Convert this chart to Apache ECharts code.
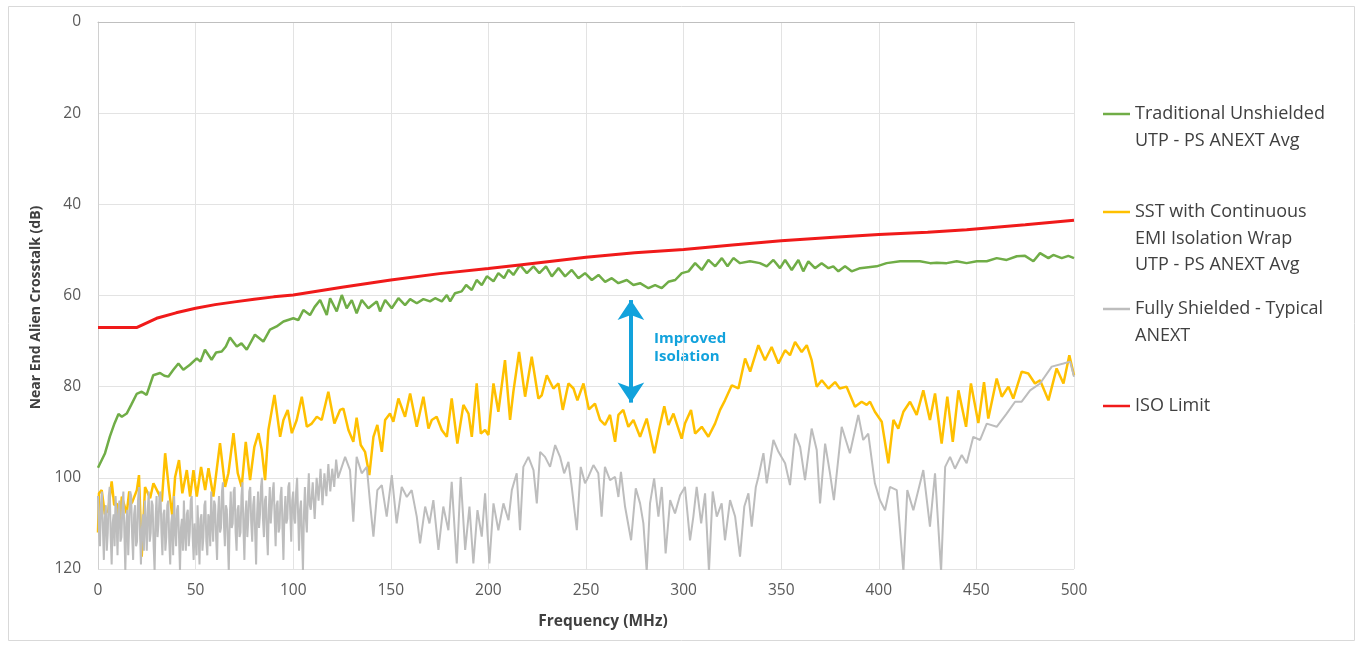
<!DOCTYPE html>
<html>
<head>
<meta charset="utf-8">
<script src="https://cdn.jsdelivr.net/npm/echarts@6/dist/echarts.min.js"></script>
<style>
html,body{margin:0;padding:0;background:#fff;}
#chart{width:1359px;height:647px;}
</style>
</head>
<body>
<div id="chart"></div>
<script>
// ---- Data (frequency MHz, crosstalk dB) ----
const xTicks = [0, 50, 100, 150, 200, 250, 300, 350, 400, 450, 500];
const yTicks = [0, 20, 40, 60, 80, 100, 120];

const legendLines = [
  ['Traditional Unshielded', 'UTP - PS ANEXT Avg'],
  ['SST with Continuous', 'EMI Isolation Wrap', 'UTP - PS ANEXT Avg'],
  ['Fully Shielded - Typical', 'ANEXT'],
  ['ISO Limit']
];

const utpData = [[0,97.8],[1,97.5],[3.6,94.6],[6.1,90.9],[8.5,88],[10.5,86],[12.2,86.6],[14.7,85.9],[17,84],[19.8,81.6],[22.4,81.1],[24.9,81.8],[28.3,77.5],[31.8,77],[34,77.6],[36,77.8],[38.6,76.3],[41.2,74.9],[43.7,76.3],[47.1,75.2],[50.6,73.8],[52.5,74.5],[54.8,71.9],[58.2,74.1],[60.5,72.5],[63.4,72.3],[65.5,71.2],[67.6,69.2],[71.1,71.2],[73.5,70.5],[76.2,71.9],[80.4,68.6],[84.7,70.1],[88.1,67.5],[91.5,66.8],[95,65.7],[100.1,65],[102.6,65.4],[105.2,63.2],[108.6,64.3],[111,62.5],[113.8,61],[117.2,64.3],[118.9,60.6],[122.3,63.5],[124.9,59.9],[127.4,62.8],[130,61],[132.5,63.9],[135.1,61],[138.5,62.8],[142.8,61.3],[144.5,63.5],[147.1,61],[150.5,62.8],[153.9,60.6],[157.3,62.1],[159.9,60.8],[163.3,61.7],[166.7,60.8],[170.1,61.3],[172.7,60.6],[176.1,61.3],[178.7,59.9],[180.4,61.3],[182.9,59.5],[186.3,59.1],[188.6,57.7],[191.5,58.8],[194,56.6],[196.6,57.7],[199.2,55.8],[202.6,56.9],[205.1,55.1],[208,56.2],[210.3,54.4],[212.8,55.5],[216.2,53.3],[219.7,55.1],[223.1,53.6],[226.1,55.1],[229.5,53.6],[232.5,55.8],[235.9,54],[239.3,55.8],[242.7,54.4],[246.1,56.2],[249.5,55.1],[253,56.6],[256.4,55.5],[259.8,57],[263.2,56.2],[266.6,57.3],[270.9,56.6],[274.3,57.7],[277.7,57.3],[282,58.4],[285.4,57.7],[288.8,58.4],[292.2,57],[295.7,56.6],[299.1,55.1],[302.5,54.7],[305.9,52.9],[309.3,54.4],[312.7,52.2],[316.2,53.6],[319.6,51.8],[322.5,53.6],[325.5,51.8],[328.9,52.9],[334,52.5],[339.1,52.9],[342.6,53.6],[346,52.2],[349.4,54],[352,52.2],[355.4,54.4],[358.8,52.2],[361.3,54.7],[363.9,52.5],[367.3,54],[370.7,52.9],[374.2,54],[376.7,53.6],[379.3,54.7],[382.7,53.6],[386.1,54.7],[390.4,54],[398.9,53.6],[404,52.9],[410.9,52.5],[416,52.5],[421.1,52.5],[426.3,52.9],[429.7,52.8],[434.8,52.9],[439.9,52.5],[445,52.9],[450.2,52.5],[455.3,52.5],[460.4,51.8],[465.5,52.2],[470.7,51.4],[474.9,51.3],[479.2,52.5],[482.6,50.7],[486.9,51.8],[489.4,51.1],[493.7,51.8],[497.1,51.3],[500,51.8]];

const sstData = [[0,112],[0.5,103.4],[1.9,102.7],[3.5,108],[5.3,107.1],[7,100.8],[8.3,106],[9.6,105.6],[11,110],[12.2,104.1],[14.7,107.8],[16,103],[17.3,105.6],[19.9,102.7],[21,99.4],[22.4,117.3],[24.1,102],[26.7,104.5],[28.4,101.2],[31,103.4],[32.7,105.2],[34.4,94.6],[36.4,102.7],[38.1,108.5],[39.5,99.8],[41.5,96.1],[43.2,103.4],[45.5,98.3],[47.2,104.1],[48.9,98.3],[50.6,104.1],[52.8,97.6],[54.9,102.7],[56.6,97.9],[59.1,104.1],[62.5,92.4],[65.1,102],[66.8,99],[69.4,90.2],[71.6,99],[73.6,102],[75.7,92.1],[77.9,100.5],[80.1,93.2],[82.2,90.2],[83.9,93.9],[85.6,100.5],[87.3,89.5],[90.4,81.8],[93.3,91],[95,87.3],[97.2,85.1],[99.3,90.2],[101.8,87.3],[104.4,82.2],[107,88.8],[109.5,88.1],[112.1,86.6],[114.6,87.3],[118,81.1],[121.1,88.1],[124,85.1],[125.7,84.8],[128.3,89.5],[130.8,92.1],[132.5,86.8],[134.6,92.8],[136.8,94.3],[139,99.4],[141.1,91],[143.1,88.4],[145.4,94.3],[147.1,87.3],[149.6,85.9],[151.3,87.7],[153.9,82.6],[157.3,86.6],[159.9,81.5],[163.3,88.8],[166.7,82.2],[169.3,89.2],[171,87.3],[173.5,86.6],[176.1,89.5],[178.7,91],[181.2,82.6],[184.1,92.5],[187.2,84],[189.8,85.9],[191.5,91],[194,79.3],[196.1,90.3],[198.3,89.5],[200,90.6],[202.6,79.3],[205.1,85.5],[208.5,74.2],[211.1,87.3],[212.8,81.1],[215.7,72.4],[218.8,82.2],[222.2,73.4],[225.6,82.6],[227.3,81.9],[229.9,77.5],[233.3,80.4],[235.9,79.3],[238.1,85.1],[241,79.3],[243.6,80.4],[245.6,83],[248.7,79.3],[251.5,85],[254.6,83.7],[257.2,87.3],[259.7,88.4],[262.3,86.2],[264.9,92.1],[266.6,86.2],[269.1,85.1],[271.7,88.8],[274.3,87.3],[277.7,91],[281.1,87],[285,94.6],[287.4,89.5],[290.1,84.3],[292.2,88.4],[294.8,85.9],[299,91.4],[300.7,88.1],[303.8,85.1],[305.9,90.3],[309.3,88.8],[312.7,91],[316.1,88.1],[318.7,85.1],[321.2,83],[324.7,79.7],[328.1,80.4],[331.5,73.8],[334.1,76.7],[338.3,70.9],[341.7,74.2],[345.1,71.3],[348.6,74.9],[352,72],[354.5,73.1],[357.1,70.2],[360.5,72.4],[363.1,70.9],[365.6,74.2],[368.2,80],[370.8,78.6],[374.2,80.4],[377.6,79],[380,80.4],[383.5,80],[387.8,84.4],[391.2,83.3],[393.8,84],[395.5,83.3],[398,85.5],[401.5,87.7],[404.9,96.8],[407.5,87.3],[410,89.2],[412.6,85.5],[416,83.3],[419.4,86.2],[422.8,80.8],[426.2,87.3],[428.8,81.5],[432.2,92.5],[435.1,82.2],[437.9,92.1],[440.8,80.8],[444.7,88.8],[447.2,79.3],[451,88],[453.9,79],[456.1,87],[460.4,78.2],[463,82.2],[466.4,80],[468.9,82.6],[473.2,76.7],[476.6,77.1],[480,79.3],[482.6,78.6],[486.9,83],[491.1,76],[494.6,79.3],[497.6,73.1],[500,77.5]];

const shieldedData = [[0,104],[0.5,112],[1,115],[1.5,106],[2,103],[2.5,111],[3,118],[3.5,109],[4,106],[4.5,116],[5,112],[5.5,104],[6,102],[6.5,113],[7,119],[7.5,110],[8,108],[8.5,115],[9,104],[9.5,109],[10,117],[10.5,107],[11,105],[11.5,114],[12,113],[12.5,106],[13,103],[13.5,112],[14,120.5],[14.5,110],[15,107],[15.5,117],[16,110],[16.5,103],[17,104],[17.5,113],[18,118],[18.5,108],[19,106],[19.5,115],[20,114],[20.5,105],[21,102],[21.5,112],[22,119],[22.5,111],[23,108],[23.5,116],[24,105],[24.5,110],[25,116],[25.5,107],[26,103],[26.5,114],[27,112],[27.5,105],[28,106],[28.5,115],[29,120.5],[29.5,109],[30,104],[30.5,113],[31,110],[31.5,104],[32,103],[32.5,112],[33,117],[33.5,108],[34,107],[34.5,116],[35,113],[35.5,106],[36,105],[36.5,114],[37,119],[37.5,110],[38,108],[38.5,117],[39,104],[39.5,111],[40,115],[40.5,107],[41,106],[41.5,113],[42,120.5],[42.5,111],[43,109],[43.5,116],[44,105],[44.5,112],[45,116],[45.5,108],[46,107],[46.5,115],[47,112],[47.5,105],[48,104],[48.5,113],[49,118],[49.5,110],[50,110],[50.5,117],[51,106],[51.5,112],[52,119],[52.5,109],[53,108],[53.5,116],[54,113],[54.5,106],[55,105],[55.5,114],[56,117],[56.5,108],[57,109],[57.5,115],[58,103],[58.5,110],[59,114],[59.5,105],[60,106],[60.5,113],[61,118],[61.5,108],[62,104],[62.5,112],[63,111],[63.5,103],[64,101],[64.5,110],[65,115],[65.5,106],[66,107],[66.5,114],[67,120.5],[67.5,109],[68,103],[68.5,111],[69,110],[69.5,103],[70,102],[70.5,112],[71,116],[71.5,107],[72,106],[72.5,113],[73,112],[73.5,104],[74,101],[74.5,111],[75,118],[75.5,108],[76,105],[76.5,113],[77,109],[77.5,103],[78,102],[78.5,110],[79,114],[79.5,106],[80,104],[80.5,112],[81,119],[81.5,108],[82,103],[82.5,111],[83,108],[83.5,102],[84,100],[84.5,109],[85,113],[85.5,105],[86,104],[86.5,112],[87,117],[87.5,107],[88,102],[88.5,110],[89,110],[89.5,103],[90,101],[90.5,109],[91,115],[91.5,106],[92,105],[92.5,112],[93,111],[93.5,104],[94,102],[94.5,111],[95,118],[95.5,108],[96,104],[96.5,110],[97,109],[97.5,102],[98,101],[98.5,108],[99,114],[99.5,105],[100,103],[100.5,109],[101,110],[101.5,103],[102,100],[102.5,108],[103,116],[103.5,107],[104,105],[104.5,113],[105,120.5],[105.5,108],[106,102],[106.5,109],[107,112],[107.5,104],[108,99],[108.5,106],[109,107],[110,101],[111,109],[112,100],[113,105],[114,98],[115,106],[116,99],[117,104],[118,97],[119,103],[120,98],[121,102],[122,96],[123,100],[124,99.8],[126.6,95.4],[129.1,98.3],[130.8,109.6],[132.5,95.4],[135.1,99],[137.7,97.6],[139.4,105.6],[141.1,112.9],[143.1,102.7],[145.4,101.6],[147.9,108.5],[150.5,99.4],[153,110],[155.6,102],[158.2,104.2],[160.7,102.7],[163.3,108.5],[165,114.4],[167.6,106.3],[169.8,110],[171.8,104.9],[174.4,115.8],[176.9,106.3],[179.5,111.5],[181.2,100.9],[183.8,118.8],[185.8,99.8],[188.1,115.8],[190.3,106.3],[192.3,118.8],[194.4,107.1],[196.6,112.9],[198.3,103.4],[200.5,118.8],[202.6,105.6],[205.1,111.5],[207.7,105.6],[210.3,109.3],[212,102.7],[214.5,99],[216.2,111.5],[217.9,97.6],[220.5,95.4],[223.1,98.3],[224.8,105.6],[226.5,94.3],[229,95.4],[231.6,97.6],[234.2,92.8],[236.7,95.4],[238.8,99],[241,96.5],[242.7,102],[245.3,111.5],[247.3,97.6],[249.5,101.2],[251.2,99.8],[253.8,97.2],[256.3,99],[258,108.5],[259.7,97.6],[262.3,100.5],[264.9,99.8],[266.6,104.2],[267.9,98.7],[270,106.3],[273.1,113.7],[275.5,102.3],[277.7,105.6],[279.4,110],[281.1,120.5],[282.8,105.6],[284.9,100.1],[287.1,108.5],[288.8,102],[290.8,116.6],[293.1,104.9],[295.6,107.8],[298.2,103.8],[300.7,102],[303.3,113.7],[305,108.5],[306.7,102],[309,110],[311,103.4],[313,120.5],[314.9,103],[317,108.5],[319.5,105.6],[321.2,113.7],[323.8,104.9],[326.4,108.5],[328.9,117.3],[331.1,106.3],[333.2,103.4],[334.9,110.7],[337,102],[338.3,99.8],[340.9,94.6],[342.6,101.2],[346,91.7],[348.6,94.3],[352,96.8],[354.5,101.6],[357.1,90.3],[359.7,93.2],[362.2,100.5],[365.6,89.2],[368.2,93.9],[369.9,105.6],[372.5,92.5],[375,99],[377,104.9],[381,88.8],[385.2,94.6],[389.5,86.2],[392,91.7],[394.6,90.3],[398,101.2],[400.6,104.9],[403.2,107.1],[405.7,102],[409.2,102.7],[412.6,120.5],[414.6,102.7],[417.7,107.1],[422.8,98.3],[426.2,110.7],[428.8,99],[431.9,120.5],[434,97.6],[436.5,95.4],[439,98],[442.5,95],[445,96.8],[448.4,91],[451.9,91.7],[455.3,88.1],[460.4,88.8],[465.5,85.9],[469.8,83.3],[473.2,83.3],[477.5,80.8],[482.6,79.3],[488.6,75.6],[494.6,74.9],[498,74.5],[500,77.8]];

const isoData = [[0,67],[20,67],[25,66],[30,65],[40,63.8],[50,62.8],[60,62],[70,61.4],[80,60.8],[90,60.3],[100,59.9],[125,58.2],[150,56.6],[175,55.2],[200,54.1],[216,53.3],[250,51.6],[275,50.6],[300,49.9],[325,48.9],[350,48],[375,47.3],[400,46.6],[425,46.1],[445,45.6],[475,44.5],[500,43.5]];

// Annotation arrow (frequency, top dB, bottom dB)
const arrowFreq = 273;
const arrowTop = 61;
const arrowBottom = 83.5;
const annotationText = ['Improved', 'Isolation'];

// ---- Chart ----
const colors = ['#70ad47', '#ffc000', '#bdbdbd', '#f01a1a'];
const widths = [2.5, 2.5, 2, 3];
const datasets = [utpData, sstData, shieldedData, isoData];
const names = legendLines.map(l => l.join(' '));
const firstLineY = [114, 212, 309, 406];
const lineGap = 26.5;
const FONT = '"Open Sans", "Liberation Sans", sans-serif';

const chart = echarts.init(document.getElementById('chart'), null, {renderer: 'canvas'});

const series = datasets.map((d, i) => ({
  name: names[i],
  type: 'line',
  data: d,
  showSymbol: false,
  symbol: 'none',
  animation: false,
  lineStyle: {color: colors[i], width: widths[i]},
  itemStyle: {color: colors[i]},
  z: 2 + i
}));

series[3].markLine = {
  silent: true,
  symbol: ['arrow', 'arrow'],
  symbolSize: 20,
  label: {show: false},
  lineStyle: {color: '#12a2dc', width: 4, type: 'solid'},
  itemStyle: {color: '#12a2dc'},
  data: [[{coord: [arrowFreq, arrowTop]}, {coord: [arrowFreq, arrowBottom]}]]
};

const legends = names.map((n, i) => ({
  data: [n],
  left: 1103,
  top: firstLineY[i] - 11,
  orient: 'vertical',
  icon: 'rect',
  itemWidth: 27,
  itemHeight: 2.5,
  padding: 0,
  selectedMode: false,
  formatter: () => legendLines[i][0],
  textStyle: {fontSize: 18, color: '#404040', fontFamily: FONT, lineHeight: 22}
}));

const graphics = [{
  type: 'rect', silent: true, z: -10,
  shape: {x: 8.5, y: 6.5, width: 1346, height: 634},
  style: {fill: 'none', stroke: '#d9d9d9', lineWidth: 1}
}];
legendLines.forEach((lines, i) => {
  lines.slice(1).forEach((t, j) => {
    graphics.push({
      type: 'text', silent: true,
      left: 1135, top: firstLineY[i] + lineGap * (j + 1) - 11,
      style: {text: t, fontSize: 18, fill: '#404040', fontFamily: FONT, lineHeight: 22}
    });
  });
});
graphics.push({
  type: 'text', silent: true,
  left: 654, top: 330,
  style: {text: annotationText.join('\n'), fontSize: 15, fontWeight: 'bold', fill: '#12a2dc', fontFamily: FONT, lineHeight: 18}
});

chart.setOption({
  animation: false,
  backgroundColor: '#ffffff',
  grid: {left: 98, right: 285, top: 22, bottom: 78, containLabel: false},
  legend: legends,
  xAxis: {
    type: 'value', min: xTicks[0], max: xTicks[xTicks.length - 1], interval: xTicks[1] - xTicks[0],
    name: 'Frequency (MHz)', nameLocation: 'middle', nameGap: 45,
    nameTextStyle: {fontSize: 15.5, fontWeight: 'bold', color: '#404040', fontFamily: FONT, padding: [0, 0, 0, 34]},
    axisLine: {show: true, lineStyle: {color: '#bfbfbf', width: 1}},
    axisTick: {show: false},
    axisLabel: {fontSize: 15.5, color: '#595959', fontFamily: FONT, margin: 14},
    splitLine: {show: true, lineStyle: {color: '#e3e3e3', width: 1}}
  },
  yAxis: {
    type: 'value', inverse: true, min: yTicks[0], max: yTicks[yTicks.length - 1], interval: yTicks[1] - yTicks[0],
    name: 'Near End Alien Crosstalk (dB)', nameLocation: 'middle', nameGap: 54,
    nameTextStyle: {fontSize: 14, fontWeight: 'bold', color: '#404040', fontFamily: FONT, padding: [0, 24, 0, 0]},
    axisLine: {show: true, lineStyle: {color: '#d0d0d0', width: 1}},
    axisTick: {show: false},
    axisLabel: {fontSize: 15.5, color: '#595959', fontFamily: FONT, margin: 17},
    splitLine: {show: true, lineStyle: {color: '#e3e3e3', width: 1}}
  },
  graphic: graphics,
  series: series
});
</script>
</body>
</html>
